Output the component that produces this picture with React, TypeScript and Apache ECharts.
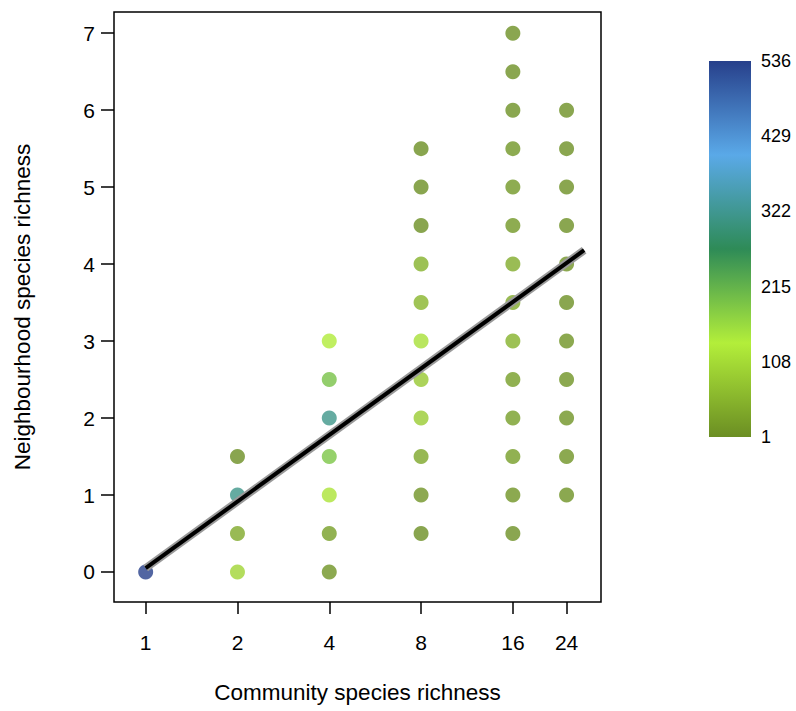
import React, { useEffect, useRef } from "react";
import * as echarts from "echarts";

// Community species richness levels (x, log2 axis)
const richnessLevels = [1, 2, 4, 8, 16, 24];

// Neighbourhood species richness observed at each community richness level
const neighAt1 = [0];
const neighAt2 = [0, 0.5, 1, 1.5];
const neighAt4 = [0, 0.5, 1, 1.5, 2, 2.5, 3];
const neighAt8 = [0.5, 1, 1.5, 2, 2.5, 3, 3.5, 4, 4.5, 5, 5.5];
const neighAt16 = [0.5, 1, 1.5, 2, 2.5, 3, 3.5, 4, 4.5, 5, 5.5, 6, 6.5, 7];
const neighAt24 = [1, 1.5, 2, 2.5, 3, 3.5, 4, 4.5, 5, 5.5, 6];

// Number of observations (colour) for each point
const countAt1 = [536];
const countAt2 = [100, 38, 316, 3];
const countAt4 = [8, 24, 120, 190, 316, 194, 130];
const countAt8 = [3, 10, 35, 88, 82, 115, 55, 50, 3, 3, 3];
const countAt16 = [4, 8, 22, 22, 22, 50, 38, 42, 14, 14, 12, 5, 4, 4];
const countAt24 = [6, 8, 8, 8, 8, 4, 10, 4, 4, 4, 4];

// Fitted regression line
const fitX = [1, 27.4];
const fitY = [0.05, 4.18];

// Axis ticks
const xTicks = [1, 2, 4, 8, 16, 24];
const yTicks = [0, 1, 2, 3, 4, 5, 6, 7];
const colorTicks = [1, 108, 215, 322, 429, 536];
const countMin = 1;
const countMax = 536;

const palette = ["#6B8E23", "#B3EE3A", "#2E8B57", "#5AA9E8", "#27408B"];

const FONT = "'Liberation Sans', Arial, sans-serif";

export default function App() {
  const ref = useRef<HTMLDivElement>(null);

  useEffect(() => {
    if (!ref.current) return;
    const chart = echarts.init(ref.current, null, { renderer: "svg" });

    const cols = [neighAt1, neighAt2, neighAt4, neighAt8, neighAt16, neighAt24];
    const counts = [countAt1, countAt2, countAt4, countAt8, countAt16, countAt24];
    const points: number[][] = [];
    richnessLevels.forEach((r, i) => {
      cols[i].forEach((y, j) => {
        points.push([Math.log2(r), y, counts[i][j]]);
      });
    });
    const fitData = fitX.map((x, i) => [Math.log2(x), fitY[i]]);

    const stops = palette.map((c, i) => ({ offset: i / (palette.length - 1), color: c }));

    const titleStyle = { color: "#000", fontSize: 22.5, fontFamily: FONT };
    const tickRich = { t: { fontSize: 21, fontFamily: FONT, color: "#000", lineHeight: 24 } };
    const barRich = { t: { fontSize: 18, fontFamily: FONT, color: "#000", lineHeight: 21 } };

    chart.setOption({
      animation: false,
      backgroundColor: "#fff",
      textStyle: { fontFamily: FONT, color: "#000" },
      grid: [
        {
          left: 114,
          top: 12,
          width: 487,
          height: 590,
          show: true,
          borderColor: "#000",
          borderWidth: 1.5,
          backgroundColor: "transparent",
        },
        { left: 709, top: 61, width: 42, height: 376 },
      ],
      xAxis: [
        {
          type: "value",
          gridIndex: 0,
          min: -0.345,
          max: 4.96,
          name: "Community species richness",
          nameLocation: "middle",
          nameGap: 79,
          nameTextStyle: { ...titleStyle },
          axisLine: { show: false, onZero: false },
          axisTick: {
            show: true,
            length: 12,
            customValues: xTicks.map((t) => Math.log2(t)),
            lineStyle: { color: "#000", width: 1.5 },
          },
          axisLabel: {
            color: "#000",
            fontFamily: FONT,
            fontSize: 21,
            margin: 28,
            customValues: xTicks.map((t) => Math.log2(t)),
            formatter: (v: number) => `{t|${Math.round(Math.pow(2, v))}}`,
            rich: tickRich,
          },
          splitLine: { show: false },
        },
        { type: "value", gridIndex: 1, min: 0, max: 1, show: false },
      ],
      yAxis: [
        {
          type: "value",
          gridIndex: 0,
          min: -0.39,
          max: 7.275,
          name: "Neighbourhood species richness",
          nameLocation: "middle",
          nameGap: 80,
          nameTextStyle: { ...titleStyle },
          axisLine: { show: false, onZero: false },
          axisTick: {
            show: true,
            length: 13,
            customValues: yTicks,
            lineStyle: { color: "#000", width: 1.5 },
          },
          axisLabel: {
            color: "#000",
            fontFamily: FONT,
            fontSize: 21,
            margin: 19,
            customValues: yTicks,
            formatter: (v: number) => `{t|${v}}`,
            rich: tickRich,
          },
          splitLine: { show: false },
        },
        {
          type: "value",
          gridIndex: 1,
          min: countMin,
          max: countMax,
          position: "right",
          axisLine: { show: false },
          axisTick: { show: false },
          splitLine: { show: false },
          axisLabel: {
            color: "#000",
            fontFamily: FONT,
            fontSize: 18,
            margin: 10,
            customValues: colorTicks,
            formatter: (v: number) => `{t|${v}}`,
            rich: barRich,
          },
        },
      ],
      visualMap: {
        show: false,
        type: "continuous",
        min: countMin,
        max: countMax,
        dimension: 2,
        seriesIndex: 0,
        inRange: { color: palette },
      },
      series: [
        {
          type: "scatter",
          xAxisIndex: 0,
          yAxisIndex: 0,
          symbol: "circle",
          symbolSize: 15,
          data: points,
          z: 2,
        },
        {
          type: "line",
          xAxisIndex: 0,
          yAxisIndex: 0,
          data: fitData,
          showSymbol: false,
          lineStyle: { color: "#9a9a9a", width: 8, cap: "butt" },
          z: 3,
        },
        {
          type: "line",
          xAxisIndex: 0,
          yAxisIndex: 0,
          data: fitData,
          showSymbol: false,
          lineStyle: { color: "#000", width: 4, cap: "butt" },
          z: 4,
        },
        {
          type: "custom",
          xAxisIndex: 1,
          yAxisIndex: 1,
          data: [[0, countMin, countMax]],
          renderItem: (params: any, api: any) => {
            const p0 = api.coord([0, api.value(1)]);
            const p1 = api.coord([1, api.value(2)]);
            return {
              type: "rect",
              shape: { x: p0[0], y: p1[1], width: p1[0] - p0[0], height: p0[1] - p1[1] },
              style: { fill: new echarts.graphic.LinearGradient(0, 1, 0, 0, stops) },
            };
          },
        },
      ],
    });

    return () => chart.dispose();
  }, []);

  return (
    <div
      ref={ref}
      style={{ position: "absolute", left: 0, top: 0, width: 796, height: 711 }}
    />
  );
}
